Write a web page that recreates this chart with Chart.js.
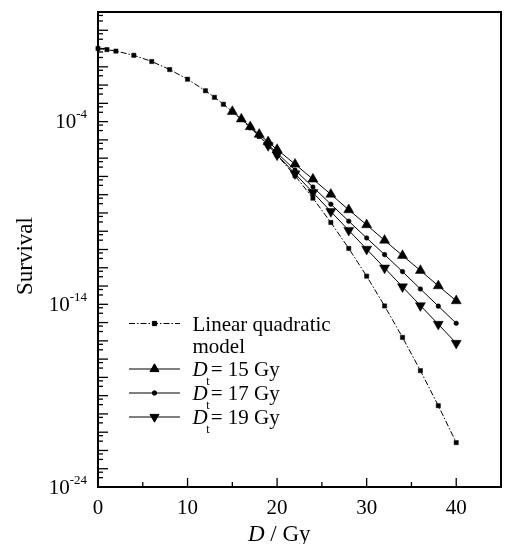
<!DOCTYPE html>
<html><head><meta charset="utf-8">
<script src="https://cdn.jsdelivr.net/npm/chart.js@4.4.0/dist/chart.umd.min.js"></script>
<style>html,body{margin:0;padding:0;background:#fff;} #wrap{width:510px;height:544px;position:relative;}</style>
</head><body><div id="wrap"><canvas id="c" width="510" height="544"></canvas></div>
<script>
// ---- data (log10 of survival) ----
const lqDose   = [0,1,2,4,6,8,10,12,13,14,15,16,17,18,19,20,22,24,26,28,30,32,34,36,38,40];
const lqLog10  = [0,-0.06,-0.14,-0.37,-0.71,-1.15,-1.68,-2.31,-2.67,-3.05,-3.45,-3.88,-4.33,-4.81,-5.31,-5.84,-6.96,-8.19,-9.52,-10.94,-12.46,-14.09,-15.81,-17.63,-19.55,-21.57];
const dt15Dose  = [15,16,17,18,19,20,22,24,26,28,30,32,34,36,38,40];
const dt15Log10 = [-3.45,-3.86,-4.28,-4.70,-5.11,-5.53,-6.33,-7.15,-7.98,-8.83,-9.65,-10.50,-11.33,-12.15,-12.99,-13.81];
const dt17Dose  = [17,18,19,20,22,24,26,28,30,32,34,36,38,40];
const dt17Log10 = [-4.33,-4.79,-5.26,-5.72,-6.65,-7.58,-8.52,-9.45,-10.37,-11.28,-12.21,-13.16,-14.10,-15.04];
const dt19Dose  = [19,20,22,24,26,28,30,32,34,36,38,40];
const dt19Log10 = [-5.31,-5.82,-6.85,-7.88,-8.92,-9.95,-10.98,-12.01,-13.04,-14.07,-15.09,-16.13];
const xTickLabels = [0,10,20,30,40];
const yLabelExponents = [-4,-14,-24];
const yDecadeMin = -24, yDecadeMax = 2;
const legendLabels = ['Linear quadratic', 'model', '15', '17', '19'];

const SERIF = '"Liberation Serif", "Times New Roman", serif';
const toPts = (xs, ls) => xs.map((x, i) => ({x: x, y: Math.pow(10, ls[i])}));

const datasets = [
  {label:'Linear quadratic model', data: toPts(lqDose, lqLog10), borderColor:'#000', backgroundColor:'#000',
   borderWidth:1, borderDash:[6,2,1.5,2], pointStyle:'rect', pointRadius:3, pointBorderWidth:0.5, clip:10},
  {label:'Dt = 15 Gy', data: toPts(dt15Dose, dt15Log10), borderColor:'#000', backgroundColor:'#000',
   borderWidth:1, pointStyle:'triangle', pointRadius:5.8, pointBorderWidth:0.5, clip:10},
  {label:'Dt = 17 Gy', data: toPts(dt17Dose, dt17Log10), borderColor:'#000', backgroundColor:'#000',
   borderWidth:1, pointStyle:'circle', pointRadius:2.3, pointBorderWidth:0.5, clip:10},
  {label:'Dt = 19 Gy', data: toPts(dt19Dose, dt19Log10), borderColor:'#000', backgroundColor:'#000',
   borderWidth:1, pointStyle:'triangle', pointRotation:180, pointRadius:5.8, pointBorderWidth:0.5, clip:10}
];

const deco = {
  id: 'deco',
  afterDatasetsDraw(chart) {
    const ctx = chart.ctx, a = chart.chartArea;
    const xs = chart.scales.x, ys = chart.scales.y;
    ctx.save();
    ctx.strokeStyle = '#000'; ctx.fillStyle = '#000';
    // inward ticks x
    ctx.lineWidth = 1.3;
    for (let v = 0; v <= 45; v += 5) {
      const px = xs.getPixelForValue(v);
      const len = (v % 10 === 0) ? 9 : 5;
      ctx.beginPath(); ctx.moveTo(px, a.bottom); ctx.lineTo(px, a.bottom - len); ctx.stroke();
    }
    // inward ticks y
    for (let e = yDecadeMin; e <= yDecadeMax; e++) {
      const py = ys.getPixelForValue(Math.pow(10, e));
      ctx.beginPath(); ctx.moveTo(a.left, py); ctx.lineTo(a.left + 10, py); ctx.stroke();
      [0.19, 0.49].forEach(f => {
        if (e - f < yDecadeMin) return;
        const q = ys.getPixelForValue(Math.pow(10, e - f));
        ctx.beginPath(); ctx.moveTo(a.left, q); ctx.lineTo(a.left + 5, q); ctx.stroke();
      });
    }
    // frame
    ctx.lineWidth = 2;
    ctx.strokeRect(a.left, a.top, a.right - a.left, a.bottom - a.top);
    // y tick labels with superscripts
    yLabelExponents.forEach(e => {
      const py = ys.getPixelForValue(Math.pow(10, e));
      const sup = '-' + String(-e);
      ctx.font = '13px ' + SERIF;
      const sw = ctx.measureText(sup).width;
      const right = 87;
      ctx.textAlign = 'left'; ctx.textBaseline = 'alphabetic';
      ctx.fillText(sup, right - sw, py - 3.5);
      ctx.font = '21px ' + SERIF;
      const bw = ctx.measureText('10').width;
      ctx.fillText('10', right - sw - bw, py + 6.5);
    });
    // x title
    ctx.textAlign = 'left'; ctx.textBaseline = 'alphabetic';
    ctx.font = 'italic 23px ' + SERIF;
    ctx.fillText('D', 248, 540.5);
    const dw = ctx.measureText('D').width;
    ctx.font = '23px ' + SERIF;
    ctx.fillText(' / Gy', 248 + dw, 540.5);
    // y title
    ctx.save();
    ctx.translate(31.5, 256); ctx.rotate(-Math.PI / 2);
    ctx.textAlign = 'center'; ctx.font = '23px ' + SERIF;
    ctx.fillText('Survival', 0, 0);
    ctx.restore();
    // legend
    const rows = [
      {ds: 0, lineY: 323.5, base: 330.5},
      {ds: 1, lineY: 369, base: 376},
      {ds: 2, lineY: 393, base: 400},
      {ds: 3, lineY: 417, base: 424}
    ];
    const lx0 = 129, lx1 = 180, mx = 154.5, tx = 192.5;
    rows.forEach((r, i) => {
      const d = chart.data.datasets[r.ds];
      ctx.lineWidth = 1;
      ctx.setLineDash(d.borderDash || []);
      ctx.beginPath(); ctx.moveTo(lx0, r.lineY); ctx.lineTo(lx1, r.lineY); ctx.stroke();
      ctx.setLineDash([]);
      const rad = d.pointStyle === 'triangle' ? 5.2 : (d.pointStyle === 'circle' ? 2.2 : 3);
      Chart.helpers.drawPoint(ctx, {pointStyle: d.pointStyle, rotation: d.pointRotation || 0, radius: rad, borderWidth: 0.5}, mx, r.lineY);
      ctx.textAlign = 'left'; ctx.textBaseline = 'alphabetic';
      if (i === 0) {
        ctx.font = '21px ' + SERIF;
        ctx.fillText(legendLabels[0], tx, r.base);
        ctx.fillText(legendLabels[1], tx, r.base + 22.5);
      } else {
        ctx.font = 'italic 21px ' + SERIF;
        ctx.fillText('D', tx, r.base);
        const w = ctx.measureText('D').width;
        ctx.font = '12px ' + SERIF;
        ctx.fillText('t', tx + w - 1.5, r.base + 8.5);
        ctx.font = '21px ' + SERIF;
        ctx.fillText('= ' + legendLabels[i + 1] + ' Gy', tx + w + 3, r.base);
      }
    });
    ctx.restore();
  }
};

new Chart(document.getElementById('c'), {
  type: 'line',
  data: {datasets: datasets},
  options: {
    responsive: false, animation: false, devicePixelRatio: 1,
    layout: {padding: {left: 0, right: 8, top: 12, bottom: 0}},
    plugins: {legend: {display: false}, tooltip: {enabled: false}},
    elements: {line: {tension: 0}},
    scales: {
      x: {
        type: 'linear', min: 0, max: 45,
        grid: {display: false, drawTicks: false}, border: {display: false},
        ticks: {stepSize: 5, autoSkip: false, maxRotation: 0, color: '#000', padding: 9,
                font: {family: SERIF, size: 21},
                callback: v => xTickLabels.includes(v) ? String(v) : ''},
        afterFit: s => { s.height = 57; }
      },
      y: {
        type: 'logarithmic', min: Math.pow(10, yDecadeMin), max: Math.pow(10, yDecadeMax),
        grid: {display: false, drawTicks: false}, border: {display: false},
        ticks: {display: false},
        afterBuildTicks: s => {
          const t = [];
          for (let e = yDecadeMin; e <= yDecadeMax; e++) t.push({value: Math.pow(10, e)});
          s.ticks = t;
        },
        afterFit: s => { s.width = 98; }
      }
    }
  },
  plugins: [deco]
});
</script></body></html>
